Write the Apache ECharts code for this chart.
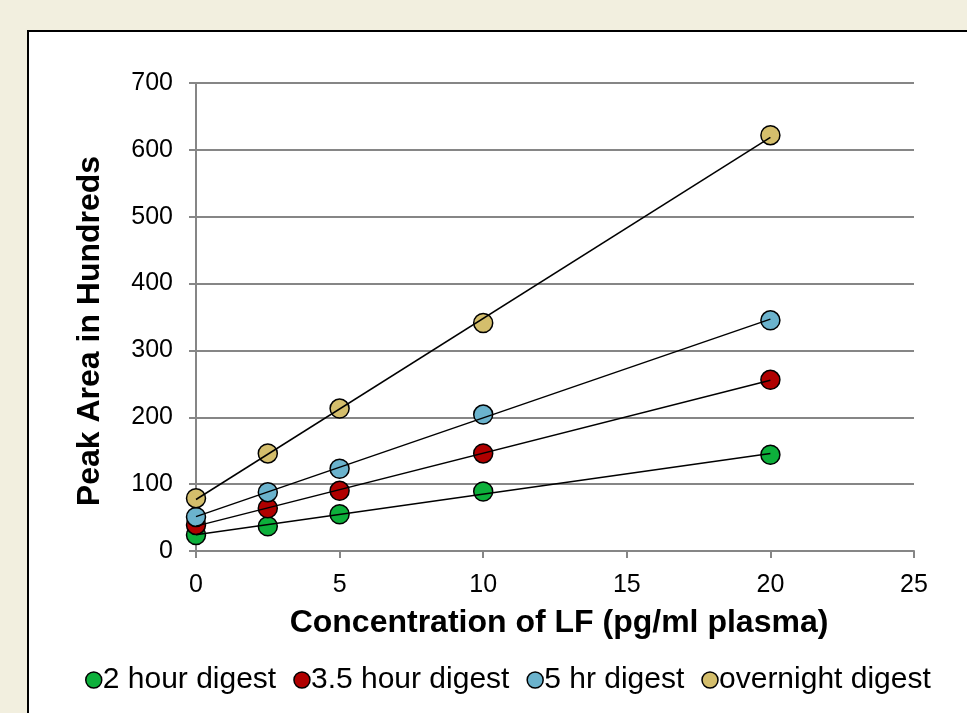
<!DOCTYPE html>
<html>
<head>
<meta charset="utf-8">
<script src="https://cdn.jsdelivr.net/npm/echarts@6/dist/echarts.min.js"></script>
<style>
  html, body { margin: 0; padding: 0; background: #F2EFDF; }
  #chart { width: 967px; height: 713px; }
</style>
</head>
<body>
<div id="chart"></div>
<script>
// concentration of LF (pg/ml plasma)
const concentrations = [0, 2.5, 5, 10, 20];

// peak area in hundreds
const digest2h = [24, 37, 55, 89, 144];
const digest35h = [39, 64, 90, 146, 256];
const digest5h = [51, 88, 123, 204, 345];
const digestOvernight = [79, 146, 213, 341, 622];

const seriesNames = ['2 hour digest', '3.5 hour digest', '5 hr digest', 'overnight digest'];
const seriesColors = ['#0DB03B', '#B00000', '#6BB3CD', '#D4BE6C'];
const seriesValues = [digest2h, digest35h, digest5h, digestOvernight];

// least squares trendline (like Excel's linear trendline)
function fitLine(xs, ys) {
  const n = xs.length;
  const mx = xs.reduce((a, b) => a + b, 0) / n;
  const my = ys.reduce((a, b) => a + b, 0) / n;
  let sxy = 0, sxx = 0;
  for (let i = 0; i < n; i++) {
    sxy += (xs[i] - mx) * (ys[i] - my);
    sxx += (xs[i] - mx) * (xs[i] - mx);
  }
  const slope = sxy / sxx;
  const icpt = my - slope * mx;
  const x0 = xs[0], x1 = xs[n - 1];
  return [[x0, icpt + slope * x0], [x1, icpt + slope * x1]];
}

const font = '"Liberation Sans", Arial, sans-serif';

const chart = echarts.init(document.getElementById('chart'));

const series = [];
seriesValues.forEach((vals, i) => {
  series.push({
    name: seriesNames[i],
    type: 'scatter',
    data: concentrations.map((x, j) => [x, vals[j]]),
    symbol: 'circle',
    symbolSize: 19,
    itemStyle: { color: seriesColors[i], borderColor: '#000', borderWidth: 1.5, opacity: 1 },
    z: 2
  });
});
seriesValues.forEach((vals, i) => {
  series.push({
    name: seriesNames[i] + ' trend',
    type: 'line',
    data: fitLine(concentrations, vals),
    symbol: 'none',
    lineStyle: { color: '#000', width: 1.5 },
    silent: true,
    z: 3
  });
});

const option = {
  backgroundColor: '#F2EFDF',
  animation: false,
  graphic: [{
    type: 'rect',
    shape: { x: 28, y: 31, width: 1000, height: 1000 },
    style: { fill: '#fff', stroke: '#000', lineWidth: 2 },
    z: -10
  }],
  grid: { left: 196, right: 53, top: 83, bottom: 162 },
  legend: {
    data: seriesNames,
    left: 80,
    top: 660,
    icon: 'circle',
    itemWidth: 16,
    itemHeight: 16,
    itemGap: 17,
    itemStyle: { borderColor: '#000', borderWidth: 1.5, opacity: 1 },
    textStyle: { fontFamily: font, fontSize: 30, color: '#000', padding: [0, 0, 0, -4] }
  },
  xAxis: {
    type: 'value',
    min: 0, max: 25, interval: 5,
    name: 'Concentration of LF (pg/ml plasma)',
    nameLocation: 'middle',
    nameGap: 56,
    nameTextStyle: { fontFamily: font, fontSize: 32, fontWeight: 'bold', color: '#000', padding: [0, 0, 0, 8] },
    axisLine: { show: true, onZero: false, lineStyle: { color: '#868686', width: 2 } },
    axisTick: { show: true, length: 7, lineStyle: { color: '#868686', width: 2 } },
    axisLabel: { fontFamily: font, fontSize: 25, color: '#000', margin: 22 },
    splitLine: { show: false }
  },
  yAxis: {
    type: 'value',
    min: 0, max: 700, interval: 100,
    name: 'Peak Area in Hundreds',
    nameLocation: 'middle',
    nameGap: 90,
    nameTextStyle: { fontFamily: font, fontSize: 32, fontWeight: 'bold', color: '#000', padding: [0, 28, 0, 0] },
    axisLine: { show: true, lineStyle: { color: '#868686', width: 2 } },
    axisTick: { show: true, length: 7, lineStyle: { color: '#868686', width: 2 } },
    axisLabel: { fontFamily: font, fontSize: 25, color: '#000', margin: 23 },
    splitLine: { show: true, lineStyle: { color: '#868686', width: 2 } }
  },
  series: series
};

chart.setOption(option);
</script>
</body>
</html>
